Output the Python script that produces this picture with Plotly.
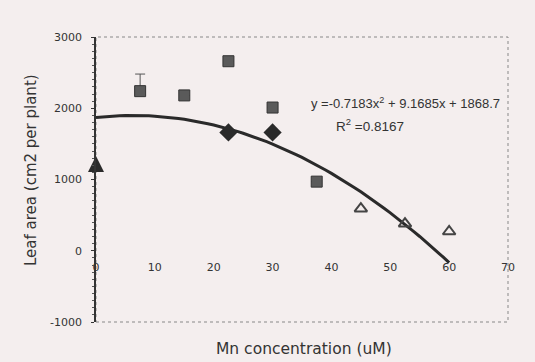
import plotly.graph_objects as go
import numpy as np

# Data
sq_x = [7.5, 15, 22.5, 30, 37.5]
sq_y = [2240, 2180, 2660, 2010, 970]
sq_err = [240, 0, 0, 0, 0]

dia_x = [22.5, 30]
dia_y = [1660, 1660]

arrow_x = [0]
arrow_y = [1330]

faint_x = [45, 52.5, 60]
faint_y = [590, 380, 270]

coef = [-0.7183, 9.1685, 1868.7]
fit_x = list(np.linspace(0, 60, 61))
fit_y = [coef[0] * v * v + coef[1] * v + coef[2] for v in fit_x]

x_ticks = [0, 10, 20, 30, 40, 50, 60, 70]
y_ticks = [-1000, 0, 1000, 2000, 3000]
y_tick_labels = ["-1000", "0", "1000", "2000", "3000"]

bg = "#f4eeee"
ink = "#333333"
font = "Liberation Sans, Arial, sans-serif"
wide = "DejaVu Sans, sans-serif"

fig = go.Figure()
fig.add_trace(go.Scatter(x=fit_x, y=fit_y, mode="lines",
                         line=dict(color="#2a2a2a", width=3), showlegend=False))
fig.add_trace(go.Scatter(x=sq_x, y=sq_y, mode="markers",
                         marker=dict(symbol="square", size=11, color="#5a5a5a",
                                     line=dict(color="#333", width=1)),
                         error_y=dict(type="data", array=sq_err, arrayminus=[0]*5,
                                      color="#555", thickness=1, width=5),
                         showlegend=False))
fig.add_trace(go.Scatter(x=dia_x, y=dia_y, mode="markers",
                         marker=dict(symbol="diamond", size=14, color="#2a2a2a"),
                         showlegend=False))
fig.add_trace(go.Scatter(x=arrow_x, y=arrow_y, mode="markers", cliponaxis=False,
                         marker=dict(symbol="arrow-up", size=16, color="#2a2a2a"),
                         showlegend=False))
fig.add_trace(go.Scatter(x=faint_x, y=faint_y, mode="markers",
                         marker=dict(symbol="triangle-up-open", size=11, color="#444",
                                     line=dict(width=2)),
                         showlegend=False))

fig.add_annotation(x=0.985, y=2075, xref="paper", yref="y", xanchor="right",
                   text="y =-0.7183x<sup>2</sup> + 9.1685x + 1868.7", showarrow=False,
                   font=dict(family=font, size=13, color=ink))
fig.add_annotation(x=46.5, y=1765, xref="x", yref="y", xanchor="center",
                   text="R<sup>2</sup> =0.8167", showarrow=False,
                   font=dict(family=font, size=13.5, color=ink))
fig.add_annotation(x=(31 - 96) / 412, y=(322 - 170) / 285, xref="paper", yref="paper",
                   xanchor="center", yanchor="middle", textangle=-90,
                   text="Leaf area (cm2 per plant)", showarrow=False,
                   font=dict(family=wide, size=15, color=ink))
fig.add_annotation(x=(304 - 96) / 412, y=-0.055, xref="paper", yref="paper",
                   yanchor="top", xanchor="center",
                   text="Mn concentration (uM)", showarrow=False,
                   font=dict(family=wide, size=15.5, color=ink))

fig.add_shape(type="rect", xref="paper", yref="paper", x0=0, x1=1, y0=0, y1=1,
              line=dict(color="#888", width=1, dash="dot"), layer="below")

fig.update_layout(
    width=535, height=362,
    margin=dict(l=96, r=27, t=37, b=40),
    paper_bgcolor=bg, plot_bgcolor=bg,
    font=dict(family=wide, color=ink, size=11),
    xaxis=dict(range=[0, 70], tickvals=x_ticks, showgrid=False, zeroline=False,
               showline=False, ticks="", anchor="free", position=0.222,
               tickfont=dict(family=wide, size=11, color=ink)),
    yaxis=dict(range=[-1000, 3000], tickvals=y_ticks, ticktext=y_tick_labels,
               showgrid=False, zeroline=False,
               showline=True, linecolor="#333", linewidth=1.5, ticks="outside",
               ticklen=3, tickcolor="#333", ticklabelstandoff=7,
               tickfont=dict(family=wide, size=11, color=ink),
               minor=dict(ticks="outside", ticklen=2, dtick=100, tickcolor="#555")),
)

fig.write_html("out.html")
